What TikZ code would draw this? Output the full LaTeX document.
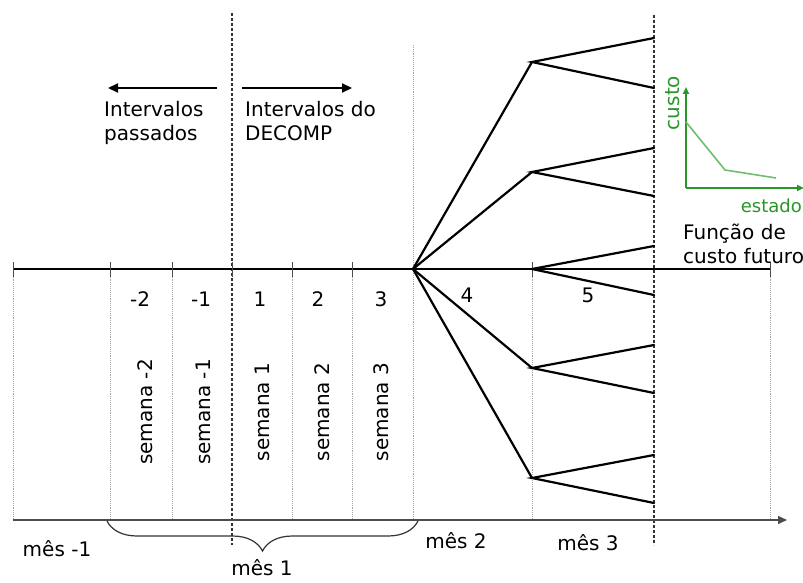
\documentclass[tikz,border=0pt]{standalone}
\usepackage{fontspec}
\setmainfont{DejaVu Sans}
\usetikzlibrary{arrows.meta,decorations.pathreplacing}
\definecolor{gdark}{RGB}{40,150,40}
\definecolor{glight}{RGB}{110,190,110}
\tikzset{
  lbl/.style={font=\fontsize{20}{24}\selectfont, inner sep=0pt},
  grid/.style={draw=black!35, densely dotted, line width=0.9pt},
  sep/.style={draw=black!80, dashed, dash pattern=on 3pt off 2pt, line width=1.3pt},
  tl/.style={draw=black, line width=2.4pt},
  br/.style={draw=black, line width=2.2pt, line cap=round},
  tick/.style={draw=black!70, line width=1pt},
}
\begin{document}
\begin{tikzpicture}[x=1pt,y=-1pt]
\useasboundingbox (0,0) rectangle (803,583);
% grid lines
\foreach \x in {13,110,172,292,352,532,770}{
  \draw[grid] (\x,269) -- (\x,520);
}
\draw[grid] (413,45) -- (413,520);
% separators
\draw[sep] (232,13) -- (232,545);
\draw[sep] (654,15) -- (654,545);
% timeline
\coordinate (t0) at (13,269);
\coordinate (tend) at (770,269);
\draw[tl] (t0) -- (tend);
\foreach \x in {13,110,172,232,292,352,532,770}{
  \draw[tick] (\x,262) -- (\x,277);
}
% bottom axis
\coordinate (b0) at (13,520);
\coordinate (b1) at (787,520);
\draw[draw=black!70, line width=1.3pt, -{Triangle[length=9pt,width=8pt]}] (b0) -- (b1);
% brace
\draw[draw=black!80, line width=1.2pt, decorate, decoration={brace, mirror, amplitude=30pt}] (107,521) -- (418,521);
% labels
\node[lbl] (m1) at (57,549) {mês -1};
\node[lbl] (mm1) at (262,568) {mês 1};
\node[lbl] (m2) at (456,541) {mês 2};
\node[lbl] (m3) at (588,543) {mês 3};
\node[lbl] (n-2) at (140,299) {-2};
\node[lbl] (n-1) at (201,299) {-1};
\node[lbl] (n1) at (260,299) {1};
\node[lbl] (n2) at (318,299) {2};
\node[lbl] (n3) at (381,299) {3};
\node[lbl] (n4) at (467,295) {4};
\node[lbl] (n5) at (588,295) {5};
\node[lbl, rotate=90] (s-2) at (145,412) {semana -2};
\node[lbl, rotate=90] (s-1) at (203,412) {semana -1};
\node[lbl, rotate=90] (s1) at (262,412) {semana 1};
\node[lbl, rotate=90] (s2) at (322,412) {semana 2};
\node[lbl, rotate=90] (s3) at (381,412) {semana 3};
% arrows on top
\coordinate (la0) at (217,88);
\coordinate (la1) at (108,88);
\coordinate (ra0) at (242,88);
\coordinate (ra1) at (352,88);
\draw[line width=2.2pt, -{Triangle[length=10pt,width=9pt]}] (la0) -- (la1);
\draw[line width=2.2pt, -{Triangle[length=10pt,width=9pt]}] (ra0) -- (ra1);
\node[lbl, anchor=north west, align=left] (ip) at (104,101) {Intervalos\\passados};
\node[lbl, anchor=north west, align=left] (id) at (245,101) {Intervalos do\\DECOMP};
% tree
\coordinate (r) at (413,269);
\foreach \i/\cy/\la/\lb in {a/62/38/88, b/172/148/196, c/269/246/295, d/368/345/393, e/478/455/503}{
  \coordinate (c\i) at (532,\cy);
  \coordinate (l\i1) at (654,\la);
  \coordinate (l\i2) at (654,\lb);
  \draw[br] (r) -- (c\i);
  \draw[br] (l\i1) -- (c\i) -- (l\i2);
}
% green graph
\coordinate (go) at (686,188);
\coordinate (gy) at (686,87);
\coordinate (gx) at (804,188);
\draw[gdark, line width=1.8pt, -{Triangle[length=7pt,width=6pt]}] (go) -- (gy);
\draw[gdark, line width=1.8pt, -{Triangle[length=7pt,width=6pt]}] (go) -- (gx);
\coordinate (g1) at (686,122);
\coordinate (g2) at (725,170);
\coordinate (g3) at (776,178);
\draw[glight, line width=1.6pt] (g1) -- (g2) -- (g3);
\node[lbl, rotate=90, text=gdark] (custo) at (673,103) {custo};
\node[lbl, anchor=east, text=gdark, font=\fontsize{18}{22}\selectfont] (estado) at (802,206) {estado};
\node[lbl, anchor=north west, align=left] (fcf) at (683,224) {Função de\\custo futuro};
\end{tikzpicture}
\end{document}
